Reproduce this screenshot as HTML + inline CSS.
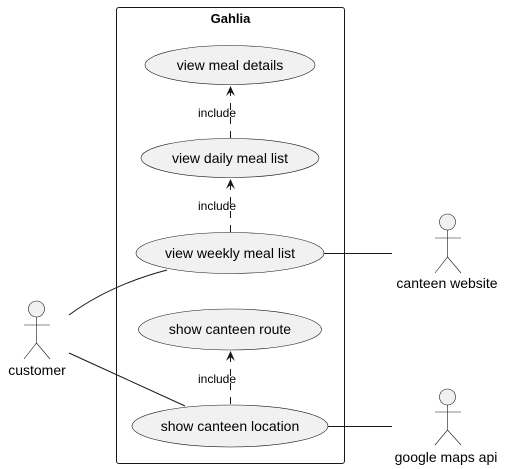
<!DOCTYPE html>
<html><head><style>body{margin:0;background:#fff}svg{display:block}</style></head><body>
<svg width="509" height="469" xmlns="http://www.w3.org/2000/svg" font-family="Liberation Sans, DejaVu Sans, sans-serif">
<rect x="116.5" y="7.5" width="228" height="456" rx="2.5" fill="none" stroke="#181818" stroke-width="1"/>
<text x="230.5" y="23" text-anchor="middle" font-size="13" font-weight="bold" fill="#000">Gahlia</text>
<g fill="#f1f1f1" stroke="#181818" stroke-width="0.6">
<ellipse cx="230" cy="65" rx="85" ry="19.5"/>
<ellipse cx="230" cy="158" rx="89" ry="19.5"/>
<ellipse cx="230" cy="253" rx="94" ry="20.5"/>
<ellipse cx="230" cy="329.5" rx="91.5" ry="20.5"/>
<ellipse cx="230" cy="426" rx="98" ry="21"/>
</g>
<g font-size="14" fill="#000" text-anchor="middle">
<text x="230" y="70">view meal details</text>
<text x="230" y="163">view daily meal list</text>
<text x="230" y="258">view weekly meal list</text>
<text x="230" y="334">show canteen route</text>
<text x="230" y="431">show canteen location</text>
</g>
<g stroke="#181818" stroke-width="1" fill="none">
<line x1="230.5" y1="138" x2="230.5" y2="88" stroke-dasharray="7,7"/>
<line x1="230.5" y1="232" x2="230.5" y2="181" stroke-dasharray="7,7"/>
<line x1="230.5" y1="404" x2="230.5" y2="353" stroke-dasharray="7,7"/>
<line x1="324" y1="253.5" x2="392" y2="253.5"/>
<line x1="328" y1="426.5" x2="392" y2="426.5"/>
<path d="M69 315 Q110 285 167 270"/>
<line x1="69" y1="353" x2="185" y2="406"/>
</g>
<g fill="#181818">
<path d="M230.5 86 L226 96 L230.5 92 L235 96 Z"/>
<path d="M230.5 179 L226 189 L230.5 185 L235 189 Z"/>
<path d="M230.5 351 L226 361 L230.5 357 L235 361 Z"/>
</g>
<g font-size="12" fill="#000" text-anchor="middle">
<text x="217" y="117">include</text>
<text x="217" y="210">include</text>
<text x="217" y="383">include</text>
</g>
<g stroke="#181818" stroke-width="0.6" fill="#f1f1f1">
<circle cx="36.5" cy="309" r="8"/>
<path d="M36.5 317 V343 M24 325 H50 M24 359 L36.5 343 L50 359" fill="none"/>
<circle cx="447.5" cy="222" r="8"/>
<path d="M447.5 230 V257 M435 238 H461 M435 273 L447.5 257 L461 273" fill="none"/>
<circle cx="447.5" cy="397" r="8"/>
<path d="M447.5 405 V430 M435 412 H461 M435 445 L447.5 430 L461 445" fill="none"/>
</g>
<g font-size="14" fill="#000" text-anchor="middle">
<text x="37" y="375">customer</text>
<text x="447" y="288">canteen website</text>
<text x="446" y="462">google maps api</text>
</g>
</svg>
</body></html>
